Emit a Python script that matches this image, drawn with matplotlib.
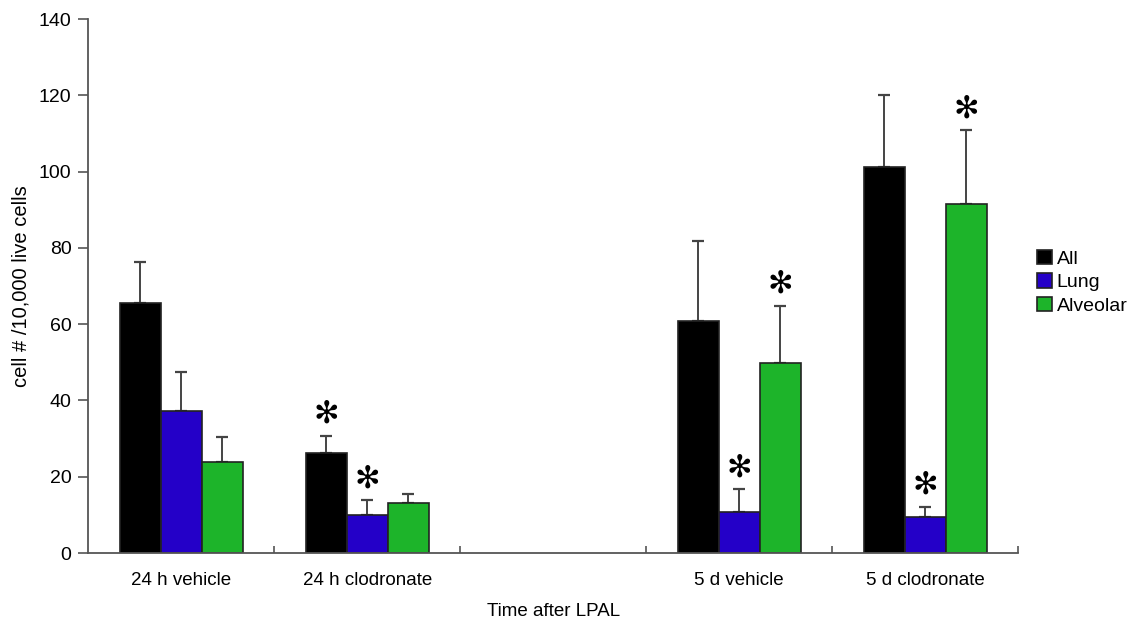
import numpy as np
import matplotlib.pyplot as plt

plt.rcParams['font.family'] = ['Liberation Sans', 'DejaVu Sans']

# data
groups = ["24 h vehicle", "24 h clodronate", "", "5 d vehicle", "5 d clodronate"]
series = ["All", "Lung", "Alveolar"]
all_mean = [65.5, 26.2, np.nan, 60.8, 101.2]
all_err = [10.8, 4.6, np.nan, 21.0, 18.9]
lung_mean = [37.3, 10.0, np.nan, 10.8, 9.4]
lung_err = [10.2, 3.8, np.nan, 5.9, 2.7]
alv_mean = [23.9, 13.0, np.nan, 49.8, 91.5]
alv_err = [6.5, 2.5, np.nan, 15.0, 19.4]
# significance markers (True = asterisk above bar)
all_sig = [False, True, False, False, False]
lung_sig = [False, True, False, True, True]
alv_sig = [False, False, False, True, True]

means = [all_mean, lung_mean, alv_mean]
errs = [all_err, lung_err, alv_err]
sigs = [all_sig, lung_sig, alv_sig]
colors = ["#000000", "#2400c8", "#1db42a"]

fig = plt.figure(figsize=(11.3, 6.26), dpi=100)
ax = fig.add_axes([0.078, 0.1166, 0.823, 0.853])

x = np.arange(len(groups))
w = 0.22
for k in range(3):
    xs = x + (k - 1) * w
    m = np.array(means[k])
    e = np.array(errs[k])
    ok = ~np.isnan(m)
    ax.bar(xs[ok], m[ok], w, color=colors[k], edgecolor="#222222",
           linewidth=1.2, label=series[k], zorder=2)
    ax.errorbar(xs[ok], m[ok], yerr=[np.zeros(ok.sum()), e[ok]], fmt="none",
                ecolor="#444444", elinewidth=1.4, capsize=4.5, capthick=1.6, zorder=1)
    for i in np.where(ok)[0]:
        if sigs[k][i]:
            ax.annotate("\u273b", (xs[i], m[i] + e[i]), xytext=(0, 5),
                        textcoords="offset points", ha="center", va="bottom",
                        fontsize=22, family="DejaVu Sans")

ax.set_xlim(-0.5, len(groups) - 0.5)
ax.set_ylim(0, 140)
ax.set_yticks(np.arange(0, 141, 20))
ax.tick_params(axis="y", labelsize=14, length=7, width=1.2, color="#555555", pad=5)

ax.set_xticks(x)
ax.set_xticklabels(groups, fontsize=13.5)
ax.tick_params(axis="x", length=0, pad=14)
ax.set_xticks(np.arange(0.5, len(groups), 1.0), minor=True)
ax.tick_params(axis="x", which="minor", direction="in", length=5, width=1.2, color="#555555")

for s in ["top", "right"]:
    ax.spines[s].set_visible(False)
for s in ["left", "bottom"]:
    ax.spines[s].set_color("#555555")
    ax.spines[s].set_linewidth(1.3)

ax.set_xlabel("Time after LPAL", fontsize=13.5, labelpad=10)
ax.set_ylabel("cell # /10,000 live cells", fontsize=14.5, labelpad=6)

fig.legend(loc="center left", bbox_to_anchor=(0.918, 0.549), frameon=False,
           fontsize=14, handlelength=0.75, handleheight=0.75, handletextpad=0.25,
           labelspacing=0.28, borderpad=0, borderaxespad=0)

fig.savefig("out.png", dpi=100)
